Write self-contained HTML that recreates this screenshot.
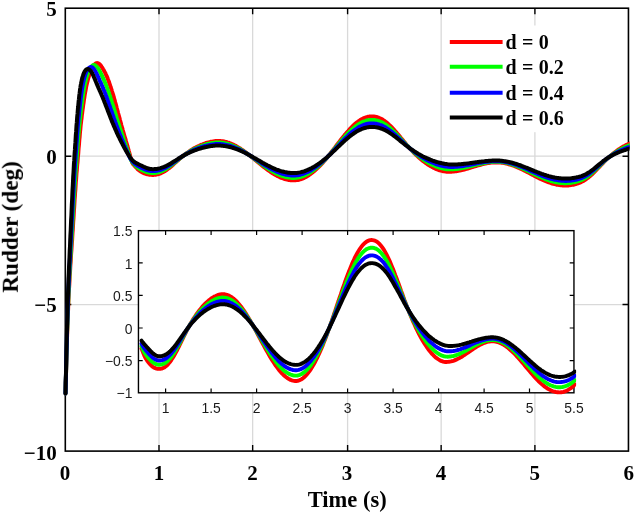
<!DOCTYPE html>
<html><head><meta charset="utf-8"><title>Rudder</title>
<style>html,body{margin:0;padding:0;background:#fff}svg{display:block}text{font-family:"Liberation Serif",serif;font-weight:bold;fill:#000}#tx{will-change:transform;opacity:.999}.s{font-family:"Liberation Sans",sans-serif;font-weight:normal;font-size:13.9px;fill:#1a1a1a}</style></head><body>
<svg width="636" height="515" viewBox="0 0 636 515">
<defs><filter id="bl" x="0" y="0" width="100%" height="100%" filterUnits="userSpaceOnUse" color-interpolation-filters="sRGB"><feGaussianBlur stdDeviation="0.45"/></filter></defs>
<rect width="636" height="515" fill="#fff"/>
<g filter="url(#bl)">
<rect width="636" height="515" fill="#fff"/>
<path d="M159.00 8.2 V451.1 M252.65 8.2 V451.1 M347.60 8.2 V451.1 M441.15 8.2 V451.1 M534.90 8.2 V451.1 M65.3 156.20 H628.5 M65.3 304.55 H628.5" stroke="#d9d9d9" stroke-width="1.3" fill="none"/>
<path d="M159.00 451.1 v-6.0 M159.00 8.2 v6.0 M252.65 451.1 v-6.0 M252.65 8.2 v6.0 M347.60 451.1 v-6.0 M347.60 8.2 v6.0 M441.15 451.1 v-6.0 M441.15 8.2 v6.0 M534.90 451.1 v-6.0 M534.90 8.2 v6.0 M65.3 156.20 h6.0 M628.5 156.20 h-6.0 M65.3 304.55 h6.0 M628.5 304.55 h-6.0" stroke="#000" stroke-width="1.4" fill="none"/>
<rect x="65.30" y="8.20" width="563.15" height="442.90" fill="none" stroke="#000" stroke-width="1.6"/>
<clipPath id="c1"><rect x="62.8" y="8.2" width="566.8" height="442.9"/></clipPath>
<g clip-path="url(#c1)" fill="none" stroke-linejoin="round" stroke-linecap="round" stroke-width="4.0">
<path d="M65.5 393.5 L65.7 384.0 L66.0 375.0 L66.2 366.3 L66.4 357.9 L66.7 350.0 L66.9 342.4 L67.1 335.1 L67.4 328.2 L67.6 321.7 L67.8 315.4 L68.1 309.5 L68.3 303.9 L68.5 298.7 L68.8 293.7 L69.0 289.0 L69.3 284.5 L69.5 280.3 L69.7 276.2 L70.0 272.3 L70.2 268.5 L70.4 264.8 L70.7 261.2 L70.9 257.7 L71.1 254.2 L71.4 250.7 L71.6 247.3 L71.8 243.8 L72.1 240.3 L72.3 236.7 L72.5 233.1 L72.8 229.5 L73.0 225.8 L73.2 222.1 L73.5 218.3 L73.7 214.6 L73.9 210.8 L74.2 207.1 L74.4 203.4 L74.6 199.8 L74.9 196.2 L75.1 192.7 L75.4 189.3 L75.6 185.9 L75.8 182.6 L76.1 179.4 L76.3 176.3 L76.5 173.3 L76.8 170.5 L77.0 167.6 L77.2 164.9 L77.5 162.2 L77.7 159.5 L77.9 156.7 L78.2 154.0 L78.4 151.2 L78.6 148.4 L78.9 145.6 L79.1 142.8 L79.3 140.0 L79.6 137.3 L79.8 134.6 L80.0 132.1 L80.3 129.6 L80.5 127.2 L80.7 125.0 L81.0 122.8 L81.2 120.7 L81.5 118.7 L81.7 116.7 L81.9 114.8 L82.2 112.9 L82.4 111.1 L82.6 109.4 L82.9 107.6 L83.1 105.9 L83.3 104.3 L83.6 102.6 L83.8 101.0 L84.0 99.5 L84.3 97.9 L84.7 95.0 L85.2 92.2 L85.7 89.6 L86.1 87.2 L86.6 84.9 L87.1 82.8 L87.6 80.9 L88.0 79.0 L88.5 77.4 L89.0 75.8 L89.4 74.4 L89.9 73.0 L90.4 71.8 L90.8 70.7 L91.3 69.6 L91.8 68.7 L92.2 67.8 L92.7 67.0 L93.2 66.2 L93.6 65.5 L94.1 65.0 L94.6 64.4 L95.1 64.0 L95.5 63.6 L96.0 63.4 L96.5 63.2 L96.9 63.1 L97.4 63.1 L97.9 63.2 L98.3 63.4 L98.8 63.7 L99.3 64.0 L99.7 64.5 L100.2 65.0 L100.7 65.5 L101.2 66.1 L101.6 66.8 L102.1 67.5 L102.6 68.3 L103.0 69.0 L103.5 69.8 L104.0 70.7 L104.4 71.5 L104.9 72.4 L105.4 73.3 L105.8 74.3 L106.3 75.3 L106.8 76.4 L107.3 77.5 L107.7 78.7 L108.2 80.0 L108.7 81.2 L109.1 82.5 L109.6 83.9 L110.1 85.3 L110.5 86.7 L111.0 88.1 L111.5 89.6 L111.9 91.1 L112.4 92.6 L112.9 94.2 L113.4 95.7 L113.8 97.4 L114.3 99.0 L114.8 100.6 L115.2 102.3 L115.7 104.0 L116.2 105.8 L116.6 107.5 L117.1 109.2 L117.6 111.0 L118.0 112.8 L118.5 114.5 L119.0 116.3 L119.5 118.0 L119.9 119.8 L120.4 121.5 L120.9 123.3 L121.3 125.0 L121.8 126.7 L122.3 128.3 L122.7 130.0 L123.2 131.6 L123.7 133.3 L124.1 134.9 L124.6 136.5 L125.1 138.1 L125.6 139.7 L126.0 141.3 L126.5 143.0 L127.0 144.6 L127.4 146.2 L127.9 147.8 L128.4 149.5 L128.8 151.1 L129.3 152.8 L129.8 154.5 L130.2 156.2 L130.7 157.9 L131.2 159.5 L131.7 161.0 L132.1 162.3 L132.6 163.3 L133.1 164.1 L133.5 164.7 L134.0 165.2 L134.5 165.7 L134.9 166.1 L135.4 166.7 L135.9 167.2 L136.3 167.7 L136.8 168.2 L137.3 168.7 L137.7 169.2 L138.2 169.6 L138.7 170.0 L139.2 170.3 L139.6 170.7 L140.1 171.0 L140.6 171.3 L141.0 171.6 L141.5 171.8 L142.0 172.1 L142.4 172.4 L142.9 172.6 L143.4 172.8 L143.8 173.1 L144.3 173.3 L144.8 173.5 L145.3 173.6 L145.7 173.8 L146.2 174.0 L146.7 174.1 L147.1 174.2 L147.6 174.3 L148.1 174.4 L148.5 174.5 L149.0 174.6 L149.5 174.7 L149.9 174.7 L150.4 174.8 L150.9 174.8 L151.4 174.8 L151.8 174.9 L152.3 174.9 L152.8 174.9 L153.2 174.9 L153.7 174.9 L154.2 174.8 L154.6 174.8 L155.1 174.7 L155.6 174.7 L156.0 174.6 L156.5 174.5 L157.0 174.4 L157.5 174.3 L157.9 174.2 L158.4 174.1 L158.9 173.9 L159.3 173.8 L160.5 173.4 L161.7 172.8 L162.8 172.3 L164.0 171.6 L165.2 170.9 L166.4 170.1 L167.5 169.2 L168.7 168.4 L169.9 167.4 L171.1 166.4 L172.2 165.4 L173.4 164.4 L174.6 163.3 L175.8 162.3 L176.9 161.2 L178.1 160.2 L179.3 159.1 L180.4 158.1 L181.6 157.1 L182.8 156.1 L184.0 155.2 L185.1 154.3 L186.3 153.4 L187.5 152.6 L188.7 151.8 L189.8 151.0 L191.0 150.2 L192.2 149.5 L193.3 148.8 L194.5 148.1 L195.7 147.5 L196.9 146.9 L198.0 146.3 L199.2 145.8 L200.4 145.2 L201.6 144.7 L202.7 144.3 L203.9 143.8 L205.1 143.4 L206.2 143.0 L207.4 142.7 L208.6 142.4 L209.8 142.1 L210.9 141.8 L212.1 141.6 L213.3 141.4 L214.5 141.2 L215.6 141.1 L216.8 141.0 L218.0 141.0 L219.1 141.0 L220.3 141.1 L221.5 141.2 L222.7 141.3 L223.8 141.5 L225.0 141.8 L226.2 142.0 L227.4 142.4 L228.5 142.7 L229.7 143.2 L230.9 143.6 L232.0 144.1 L233.2 144.6 L234.4 145.2 L235.6 145.8 L236.7 146.5 L237.9 147.2 L239.1 147.9 L240.3 148.6 L241.4 149.4 L242.6 150.2 L243.8 151.0 L244.9 151.8 L246.1 152.7 L247.3 153.6 L248.5 154.5 L249.6 155.4 L250.8 156.4 L252.0 157.3 L253.2 158.3 L254.3 159.2 L255.5 160.2 L256.7 161.1 L257.9 162.1 L259.0 163.1 L260.2 164.0 L261.4 165.0 L262.5 165.9 L263.7 166.8 L264.9 167.7 L266.1 168.6 L267.2 169.5 L268.4 170.3 L269.6 171.2 L270.8 172.0 L271.9 172.7 L273.1 173.5 L274.3 174.2 L275.4 174.9 L276.6 175.5 L277.8 176.2 L279.0 176.7 L280.1 177.3 L281.3 177.8 L282.5 178.2 L283.7 178.6 L284.8 179.0 L286.0 179.3 L287.2 179.6 L288.3 179.9 L289.5 180.0 L290.7 180.2 L291.9 180.3 L293.0 180.3 L294.2 180.3 L295.4 180.3 L296.6 180.1 L297.7 180.0 L298.9 179.7 L300.1 179.4 L301.2 179.0 L302.4 178.6 L303.6 178.1 L304.8 177.5 L305.9 176.9 L307.1 176.2 L308.3 175.5 L309.5 174.7 L310.6 173.9 L311.8 173.0 L313.0 172.1 L314.1 171.1 L315.3 170.1 L316.5 169.0 L317.7 167.9 L318.8 166.8 L320.0 165.6 L321.2 164.3 L322.4 163.1 L323.5 161.8 L324.7 160.4 L325.9 159.0 L327.1 157.6 L328.2 156.2 L329.4 154.7 L330.6 153.3 L331.7 151.8 L332.9 150.2 L334.1 148.7 L335.3 147.2 L336.4 145.6 L337.6 144.1 L338.8 142.6 L340.0 141.0 L341.1 139.5 L342.3 138.0 L343.5 136.6 L344.6 135.1 L345.8 133.7 L347.0 132.3 L348.2 131.0 L349.3 129.7 L350.5 128.4 L351.7 127.2 L352.9 126.0 L354.0 124.9 L355.2 123.9 L356.4 122.9 L357.5 122.0 L358.7 121.1 L359.9 120.3 L361.1 119.6 L362.2 119.0 L363.4 118.4 L364.6 117.9 L365.8 117.5 L366.9 117.1 L368.1 116.8 L369.3 116.6 L370.4 116.5 L371.6 116.5 L372.8 116.5 L374.0 116.6 L375.1 116.7 L376.3 117.0 L377.5 117.3 L378.7 117.7 L379.8 118.2 L381.0 118.8 L382.2 119.4 L383.3 120.2 L384.5 121.0 L385.7 121.8 L386.9 122.8 L388.0 123.8 L389.2 124.9 L390.4 126.0 L391.6 127.2 L392.7 128.4 L393.9 129.7 L395.1 131.0 L396.3 132.4 L397.4 133.7 L398.6 135.1 L399.8 136.5 L400.9 138.0 L402.1 139.4 L403.3 140.8 L404.5 142.2 L405.6 143.6 L406.8 145.0 L408.0 146.3 L409.2 147.7 L410.3 149.0 L411.5 150.2 L412.7 151.5 L413.8 152.7 L415.0 153.8 L416.2 155.0 L417.4 156.1 L418.5 157.2 L419.7 158.2 L420.9 159.2 L422.1 160.2 L423.2 161.1 L424.4 162.0 L425.6 162.9 L426.7 163.7 L427.9 164.5 L429.1 165.2 L430.3 166.0 L431.4 166.6 L432.6 167.3 L433.8 167.9 L435.0 168.4 L436.1 169.0 L437.3 169.4 L438.5 169.9 L439.6 170.3 L440.8 170.6 L442.0 170.9 L443.2 171.2 L444.3 171.4 L445.5 171.6 L446.7 171.7 L447.9 171.7 L449.0 171.7 L450.2 171.7 L451.4 171.7 L452.5 171.6 L453.7 171.5 L454.9 171.3 L456.1 171.2 L457.2 171.0 L458.4 170.8 L459.6 170.6 L460.8 170.3 L461.9 170.0 L463.1 169.8 L464.3 169.5 L465.5 169.1 L466.6 168.8 L467.8 168.5 L469.0 168.1 L470.1 167.8 L471.3 167.4 L472.5 167.1 L473.7 166.7 L474.8 166.3 L476.0 166.0 L477.2 165.6 L478.4 165.3 L479.5 165.0 L480.7 164.7 L481.9 164.4 L483.0 164.1 L484.2 163.8 L485.4 163.6 L486.6 163.3 L487.7 163.1 L488.9 162.9 L490.1 162.8 L491.3 162.6 L492.4 162.5 L493.6 162.5 L494.8 162.4 L495.9 162.4 L497.1 162.4 L498.3 162.4 L499.5 162.5 L500.6 162.6 L501.8 162.7 L503.0 162.9 L504.2 163.1 L505.3 163.3 L506.5 163.6 L507.7 163.9 L508.8 164.2 L510.0 164.5 L511.2 164.9 L512.4 165.3 L513.5 165.7 L514.7 166.1 L515.9 166.6 L517.1 167.1 L518.2 167.6 L519.4 168.1 L520.6 168.7 L521.7 169.2 L522.9 169.8 L524.1 170.4 L525.3 171.0 L526.4 171.6 L527.6 172.2 L528.8 172.8 L530.0 173.4 L531.1 174.0 L532.3 174.7 L533.5 175.3 L534.6 175.9 L535.8 176.5 L537.0 177.1 L538.2 177.7 L539.3 178.3 L540.5 178.8 L541.7 179.4 L542.9 179.9 L544.0 180.4 L545.2 180.9 L546.4 181.4 L547.6 181.9 L548.7 182.3 L549.9 182.7 L551.1 183.1 L552.2 183.5 L553.4 183.8 L554.6 184.1 L555.8 184.4 L556.9 184.7 L558.1 184.9 L559.3 185.1 L560.5 185.2 L561.6 185.3 L562.8 185.4 L564.0 185.5 L565.1 185.5 L566.3 185.5 L567.5 185.5 L568.7 185.4 L569.8 185.2 L571.0 185.1 L572.2 184.9 L573.4 184.7 L574.5 184.4 L575.7 184.1 L576.9 183.7 L578.0 183.3 L579.2 182.9 L580.4 182.4 L581.6 181.8 L582.7 181.2 L583.9 180.6 L585.1 179.8 L586.3 179.0 L587.4 178.2 L588.6 177.3 L589.8 176.3 L590.9 175.3 L592.1 174.2 L593.3 173.1 L594.5 171.9 L595.6 170.7 L596.8 169.5 L598.0 168.2 L599.2 167.0 L600.3 165.8 L601.5 164.5 L602.7 163.3 L603.8 162.1 L605.0 160.9 L606.2 159.7 L607.4 158.6 L608.5 157.6 L609.7 156.5 L610.9 155.5 L612.1 154.5 L613.2 153.6 L614.4 152.7 L615.6 151.8 L616.8 150.9 L617.9 150.0 L619.1 149.2 L620.3 148.5 L621.4 147.7 L622.6 147.0 L623.8 146.3 L625.0 145.7 L626.1 145.1 L627.3 144.5 L628.5 144.0 L629.7 143.5 L630.8 143.0 L632.0 142.6 L633.2 142.2" stroke="#ff0000"/>
<path d="M65.5 393.5 L65.7 383.7 L66.0 374.3 L66.2 365.2 L66.4 356.4 L66.7 347.9 L66.9 339.8 L67.1 332.0 L67.4 324.7 L67.6 317.6 L67.8 311.0 L68.1 304.8 L68.3 298.9 L68.5 293.4 L68.8 288.2 L69.0 283.3 L69.3 278.7 L69.5 274.2 L69.7 269.9 L70.0 265.8 L70.2 261.7 L70.4 257.7 L70.7 253.7 L70.9 249.8 L71.1 245.8 L71.4 241.9 L71.6 237.9 L71.8 233.9 L72.1 229.8 L72.3 225.8 L72.5 221.7 L72.8 217.6 L73.0 213.5 L73.2 209.4 L73.5 205.3 L73.7 201.3 L73.9 197.4 L74.2 193.5 L74.4 189.7 L74.6 186.0 L74.9 182.4 L75.1 178.9 L75.4 175.5 L75.6 172.3 L75.8 169.1 L76.1 166.0 L76.3 163.0 L76.5 160.0 L76.8 157.0 L77.0 154.0 L77.2 151.0 L77.5 147.9 L77.7 144.9 L77.9 141.9 L78.2 138.9 L78.4 136.1 L78.6 133.2 L78.9 130.5 L79.1 127.9 L79.3 125.4 L79.6 123.0 L79.8 120.7 L80.0 118.5 L80.3 116.3 L80.5 114.2 L80.7 112.2 L81.0 110.2 L81.2 108.2 L81.5 106.3 L81.7 104.4 L81.9 102.6 L82.2 100.8 L82.4 99.1 L82.6 97.4 L82.9 95.8 L83.1 94.2 L83.3 92.7 L83.6 91.2 L83.8 89.8 L84.0 88.4 L84.3 87.2 L84.7 84.7 L85.2 82.5 L85.7 80.5 L86.1 78.7 L86.6 77.0 L87.1 75.4 L87.6 74.0 L88.0 72.7 L88.5 71.6 L89.0 70.5 L89.4 69.6 L89.9 68.7 L90.4 67.9 L90.8 67.3 L91.3 66.7 L91.8 66.2 L92.2 65.8 L92.7 65.4 L93.2 65.2 L93.6 65.1 L94.1 65.1 L94.6 65.1 L95.1 65.3 L95.5 65.6 L96.0 65.9 L96.5 66.4 L96.9 66.9 L97.4 67.5 L97.9 68.1 L98.3 68.8 L98.8 69.6 L99.3 70.4 L99.7 71.3 L100.2 72.2 L100.7 73.1 L101.2 74.1 L101.6 75.0 L102.1 76.0 L102.6 77.0 L103.0 78.0 L103.5 79.0 L104.0 80.1 L104.4 81.2 L104.9 82.3 L105.4 83.5 L105.8 84.6 L106.3 85.8 L106.8 87.1 L107.3 88.4 L107.7 89.7 L108.2 91.0 L108.7 92.3 L109.1 93.7 L109.6 95.1 L110.1 96.5 L110.5 97.9 L111.0 99.4 L111.5 100.8 L111.9 102.3 L112.4 103.8 L112.9 105.3 L113.4 106.8 L113.8 108.4 L114.3 109.9 L114.8 111.4 L115.2 113.0 L115.7 114.5 L116.2 116.1 L116.6 117.6 L117.1 119.1 L117.6 120.7 L118.0 122.2 L118.5 123.7 L119.0 125.2 L119.5 126.6 L119.9 128.1 L120.4 129.5 L120.9 130.9 L121.3 132.3 L121.8 133.7 L122.3 135.1 L122.7 136.5 L123.2 137.9 L123.7 139.3 L124.1 140.6 L124.6 142.0 L125.1 143.3 L125.6 144.7 L126.0 146.1 L126.5 147.4 L127.0 148.8 L127.4 150.1 L127.9 151.5 L128.4 152.9 L128.8 154.3 L129.3 155.6 L129.8 157.0 L130.2 158.2 L130.7 159.4 L131.2 160.4 L131.7 161.2 L132.1 161.9 L132.6 162.5 L133.1 163.1 L133.5 163.6 L134.0 164.1 L134.5 164.6 L134.9 165.1 L135.4 165.6 L135.9 166.0 L136.3 166.5 L136.8 166.9 L137.3 167.3 L137.7 167.6 L138.2 167.9 L138.7 168.2 L139.2 168.5 L139.6 168.8 L140.1 169.0 L140.6 169.3 L141.0 169.6 L141.5 169.8 L142.0 170.1 L142.4 170.3 L142.9 170.5 L143.4 170.8 L143.8 171.0 L144.3 171.2 L144.8 171.4 L145.3 171.5 L145.7 171.7 L146.2 171.9 L146.7 172.0 L147.1 172.2 L147.6 172.3 L148.1 172.4 L148.5 172.5 L149.0 172.6 L149.5 172.7 L149.9 172.8 L150.4 172.8 L150.9 172.9 L151.4 172.9 L151.8 173.0 L152.3 173.0 L152.8 173.0 L153.2 173.0 L153.7 173.0 L154.2 172.9 L154.6 172.9 L155.1 172.9 L155.6 172.8 L156.0 172.7 L156.5 172.7 L157.0 172.6 L157.5 172.5 L157.9 172.4 L158.4 172.3 L158.9 172.1 L159.3 172.0 L160.5 171.6 L161.7 171.1 L162.8 170.6 L164.0 170.0 L165.2 169.4 L166.4 168.7 L167.5 167.9 L168.7 167.1 L169.9 166.2 L171.1 165.4 L172.2 164.5 L173.4 163.5 L174.6 162.6 L175.8 161.6 L176.9 160.7 L178.1 159.7 L179.3 158.8 L180.4 157.9 L181.6 157.0 L182.8 156.1 L184.0 155.3 L185.1 154.4 L186.3 153.7 L187.5 152.9 L188.7 152.2 L189.8 151.5 L191.0 150.8 L192.2 150.1 L193.3 149.5 L194.5 148.9 L195.7 148.3 L196.9 147.8 L198.0 147.3 L199.2 146.8 L200.4 146.3 L201.6 145.9 L202.7 145.4 L203.9 145.1 L205.1 144.7 L206.2 144.3 L207.4 144.0 L208.6 143.7 L209.8 143.5 L210.9 143.2 L212.1 143.0 L213.3 142.9 L214.5 142.7 L215.6 142.6 L216.8 142.6 L218.0 142.5 L219.1 142.5 L220.3 142.6 L221.5 142.7 L222.7 142.8 L223.8 143.0 L225.0 143.2 L226.2 143.4 L227.4 143.7 L228.5 144.1 L229.7 144.4 L230.9 144.8 L232.0 145.3 L233.2 145.8 L234.4 146.3 L235.6 146.8 L236.7 147.4 L237.9 148.0 L239.1 148.6 L240.3 149.3 L241.4 150.0 L242.6 150.7 L243.8 151.4 L244.9 152.2 L246.1 153.0 L247.3 153.7 L248.5 154.6 L249.6 155.4 L250.8 156.2 L252.0 157.1 L253.2 157.9 L254.3 158.8 L255.5 159.6 L256.7 160.5 L257.9 161.4 L259.0 162.2 L260.2 163.1 L261.4 164.0 L262.5 164.8 L263.7 165.6 L264.9 166.5 L266.1 167.3 L267.2 168.1 L268.4 168.8 L269.6 169.6 L270.8 170.3 L271.9 171.0 L273.1 171.7 L274.3 172.3 L275.4 173.0 L276.6 173.6 L277.8 174.1 L279.0 174.6 L280.1 175.1 L281.3 175.6 L282.5 176.0 L283.7 176.4 L284.8 176.7 L286.0 177.0 L287.2 177.3 L288.3 177.5 L289.5 177.6 L290.7 177.8 L291.9 177.9 L293.0 177.9 L294.2 177.9 L295.4 177.8 L296.6 177.7 L297.7 177.6 L298.9 177.3 L300.1 177.0 L301.2 176.7 L302.4 176.3 L303.6 175.9 L304.8 175.4 L305.9 174.8 L307.1 174.2 L308.3 173.6 L309.5 172.9 L310.6 172.1 L311.8 171.3 L313.0 170.5 L314.1 169.6 L315.3 168.7 L316.5 167.8 L317.7 166.8 L318.8 165.7 L320.0 164.7 L321.2 163.5 L322.4 162.4 L323.5 161.2 L324.7 160.0 L325.9 158.8 L327.1 157.5 L328.2 156.2 L329.4 154.9 L330.6 153.5 L331.7 152.2 L332.9 150.8 L334.1 149.4 L335.3 148.0 L336.4 146.6 L337.6 145.2 L338.8 143.8 L340.0 142.4 L341.1 141.1 L342.3 139.7 L343.5 138.3 L344.6 137.0 L345.8 135.7 L347.0 134.5 L348.2 133.2 L349.3 132.0 L350.5 130.9 L351.7 129.8 L352.9 128.7 L354.0 127.7 L355.2 126.7 L356.4 125.8 L357.5 125.0 L358.7 124.2 L359.9 123.5 L361.1 122.8 L362.2 122.2 L363.4 121.7 L364.6 121.3 L365.8 120.9 L366.9 120.5 L368.1 120.3 L369.3 120.1 L370.4 120.0 L371.6 119.9 L372.8 120.0 L374.0 120.0 L375.1 120.2 L376.3 120.4 L377.5 120.7 L378.7 121.1 L379.8 121.5 L381.0 122.0 L382.2 122.6 L383.3 123.2 L384.5 123.9 L385.7 124.7 L386.9 125.6 L388.0 126.5 L389.2 127.4 L390.4 128.4 L391.6 129.5 L392.7 130.6 L393.9 131.7 L395.1 132.9 L396.3 134.1 L397.4 135.4 L398.6 136.6 L399.8 137.9 L400.9 139.1 L402.1 140.4 L403.3 141.6 L404.5 142.9 L405.6 144.1 L406.8 145.3 L408.0 146.5 L409.2 147.7 L410.3 148.8 L411.5 149.9 L412.7 151.0 L413.8 152.1 L415.0 153.1 L416.2 154.1 L417.4 155.1 L418.5 156.0 L419.7 156.9 L420.9 157.8 L422.1 158.7 L423.2 159.5 L424.4 160.3 L425.6 161.0 L426.7 161.8 L427.9 162.5 L429.1 163.1 L430.3 163.8 L431.4 164.4 L432.6 164.9 L433.8 165.5 L435.0 166.0 L436.1 166.5 L437.3 166.9 L438.5 167.3 L439.6 167.7 L440.8 168.0 L442.0 168.3 L443.2 168.6 L444.3 168.8 L445.5 169.0 L446.7 169.2 L447.9 169.3 L449.0 169.3 L450.2 169.3 L451.4 169.3 L452.5 169.3 L453.7 169.2 L454.9 169.1 L456.1 169.0 L457.2 168.9 L458.4 168.7 L459.6 168.5 L460.8 168.4 L461.9 168.1 L463.1 167.9 L464.3 167.7 L465.5 167.4 L466.6 167.2 L467.8 166.9 L469.0 166.6 L470.1 166.3 L471.3 166.0 L472.5 165.7 L473.7 165.4 L474.8 165.1 L476.0 164.8 L477.2 164.5 L478.4 164.3 L479.5 164.0 L480.7 163.7 L481.9 163.5 L483.0 163.2 L484.2 163.0 L485.4 162.8 L486.6 162.6 L487.7 162.4 L488.9 162.2 L490.1 162.1 L491.3 162.0 L492.4 161.9 L493.6 161.8 L494.8 161.8 L495.9 161.8 L497.1 161.8 L498.3 161.8 L499.5 161.9 L500.6 162.0 L501.8 162.1 L503.0 162.2 L504.2 162.4 L505.3 162.6 L506.5 162.9 L507.7 163.1 L508.8 163.4 L510.0 163.7 L511.2 164.1 L512.4 164.5 L513.5 164.8 L514.7 165.3 L515.9 165.7 L517.1 166.1 L518.2 166.6 L519.4 167.1 L520.6 167.6 L521.7 168.1 L522.9 168.6 L524.1 169.2 L525.3 169.7 L526.4 170.3 L527.6 170.9 L528.8 171.4 L530.0 172.0 L531.1 172.6 L532.3 173.1 L533.5 173.7 L534.6 174.3 L535.8 174.8 L537.0 175.4 L538.2 175.9 L539.3 176.5 L540.5 177.0 L541.7 177.5 L542.9 178.0 L544.0 178.5 L545.2 179.0 L546.4 179.4 L547.6 179.8 L548.7 180.2 L549.9 180.6 L551.1 181.0 L552.2 181.3 L553.4 181.6 L554.6 181.9 L555.8 182.2 L556.9 182.4 L558.1 182.6 L559.3 182.8 L560.5 182.9 L561.6 183.0 L562.8 183.1 L564.0 183.2 L565.1 183.2 L566.3 183.2 L567.5 183.1 L568.7 183.1 L569.8 183.0 L571.0 182.8 L572.2 182.6 L573.4 182.4 L574.5 182.2 L575.7 181.9 L576.9 181.6 L578.0 181.2 L579.2 180.9 L580.4 180.4 L581.6 179.9 L582.7 179.4 L583.9 178.8 L585.1 178.1 L586.3 177.4 L587.4 176.6 L588.6 175.7 L589.8 174.8 L590.9 173.9 L592.1 172.8 L593.3 171.8 L594.5 170.7 L595.6 169.6 L596.8 168.5 L598.0 167.3 L599.2 166.2 L600.3 165.0 L601.5 163.8 L602.7 162.7 L603.8 161.6 L605.0 160.5 L606.2 159.5 L607.4 158.5 L608.5 157.5 L609.7 156.6 L610.9 155.7 L612.1 154.8 L613.2 154.0 L614.4 153.2 L615.6 152.4 L616.8 151.6 L617.9 150.9 L619.1 150.2 L620.3 149.5 L621.4 148.9 L622.6 148.3 L623.8 147.7 L625.0 147.1 L626.1 146.6 L627.3 146.1 L628.5 145.6 L629.7 145.2 L630.8 144.7 L632.0 144.3 L633.2 144.0" stroke="#00ff00"/>
<path d="M65.5 393.5 L65.7 383.3 L66.0 373.4 L66.2 363.7 L66.4 354.2 L66.7 345.1 L66.9 336.3 L67.1 327.9 L67.4 319.9 L67.6 312.3 L67.8 305.3 L68.1 298.7 L68.3 292.6 L68.5 286.9 L68.8 281.5 L69.0 276.3 L69.3 271.4 L69.5 266.6 L69.7 262.0 L70.0 257.3 L70.2 252.8 L70.4 248.2 L70.7 243.7 L70.9 239.2 L71.1 234.7 L71.4 230.1 L71.6 225.6 L71.8 221.0 L72.1 216.5 L72.3 212.0 L72.5 207.5 L72.8 203.0 L73.0 198.6 L73.2 194.3 L73.5 190.1 L73.7 185.9 L73.9 181.9 L74.2 178.0 L74.4 174.3 L74.6 170.7 L74.9 167.2 L75.1 163.7 L75.4 160.4 L75.6 157.1 L75.8 153.8 L76.1 150.5 L76.3 147.2 L76.5 143.9 L76.8 140.6 L77.0 137.4 L77.2 134.3 L77.5 131.3 L77.7 128.4 L77.9 125.6 L78.2 123.0 L78.4 120.4 L78.6 117.9 L78.9 115.5 L79.1 113.1 L79.3 110.8 L79.6 108.6 L79.8 106.4 L80.0 104.3 L80.3 102.3 L80.5 100.3 L80.7 98.4 L81.0 96.5 L81.2 94.7 L81.5 93.0 L81.7 91.4 L81.9 89.9 L82.2 88.4 L82.4 87.0 L82.6 85.7 L82.9 84.4 L83.1 83.2 L83.3 82.1 L83.6 81.0 L83.8 80.0 L84.0 79.1 L84.3 78.2 L84.7 76.5 L85.2 75.0 L85.7 73.6 L86.1 72.4 L86.6 71.4 L87.1 70.5 L87.6 69.7 L88.0 69.0 L88.5 68.4 L89.0 67.9 L89.4 67.5 L89.9 67.3 L90.4 67.1 L90.8 67.0 L91.3 67.1 L91.8 67.2 L92.2 67.5 L92.7 67.8 L93.2 68.2 L93.6 68.7 L94.1 69.3 L94.6 70.0 L95.1 70.8 L95.5 71.6 L96.0 72.5 L96.5 73.4 L96.9 74.4 L97.4 75.4 L97.9 76.4 L98.3 77.5 L98.8 78.5 L99.3 79.6 L99.7 80.6 L100.2 81.7 L100.7 82.7 L101.2 83.8 L101.6 84.9 L102.1 85.9 L102.6 87.0 L103.0 88.1 L103.5 89.3 L104.0 90.4 L104.4 91.6 L104.9 92.8 L105.4 94.0 L105.8 95.3 L106.3 96.5 L106.8 97.8 L107.3 99.1 L107.7 100.4 L108.2 101.7 L108.7 103.1 L109.1 104.4 L109.6 105.7 L110.1 107.1 L110.5 108.4 L111.0 109.8 L111.5 111.2 L111.9 112.5 L112.4 113.9 L112.9 115.2 L113.4 116.6 L113.8 117.9 L114.3 119.3 L114.8 120.6 L115.2 121.9 L115.7 123.2 L116.2 124.5 L116.6 125.8 L117.1 127.1 L117.6 128.3 L118.0 129.6 L118.5 130.8 L119.0 132.0 L119.5 133.2 L119.9 134.4 L120.4 135.6 L120.9 136.8 L121.3 137.9 L121.8 139.1 L122.3 140.2 L122.7 141.4 L123.2 142.5 L123.7 143.6 L124.1 144.7 L124.6 145.9 L125.1 147.0 L125.6 148.1 L126.0 149.2 L126.5 150.3 L127.0 151.4 L127.4 152.5 L127.9 153.5 L128.4 154.6 L128.8 155.6 L129.3 156.6 L129.8 157.5 L130.2 158.3 L130.7 159.1 L131.2 159.8 L131.7 160.4 L132.1 161.0 L132.6 161.5 L133.1 162.0 L133.5 162.5 L134.0 163.0 L134.5 163.4 L134.9 163.9 L135.4 164.3 L135.9 164.6 L136.3 164.9 L136.8 165.2 L137.3 165.5 L137.7 165.8 L138.2 166.0 L138.7 166.3 L139.2 166.6 L139.6 166.8 L140.1 167.1 L140.6 167.3 L141.0 167.5 L141.5 167.8 L142.0 168.0 L142.4 168.2 L142.9 168.5 L143.4 168.7 L143.8 168.9 L144.3 169.1 L144.8 169.3 L145.3 169.5 L145.7 169.7 L146.2 169.8 L146.7 170.0 L147.1 170.1 L147.6 170.3 L148.1 170.4 L148.5 170.5 L149.0 170.6 L149.5 170.7 L149.9 170.8 L150.4 170.9 L150.9 171.0 L151.4 171.0 L151.8 171.0 L152.3 171.1 L152.8 171.1 L153.2 171.1 L153.7 171.1 L154.2 171.0 L154.6 171.0 L155.1 171.0 L155.6 170.9 L156.0 170.9 L156.5 170.8 L157.0 170.7 L157.5 170.6 L157.9 170.5 L158.4 170.4 L158.9 170.3 L159.3 170.2 L160.5 169.9 L161.7 169.4 L162.8 169.0 L164.0 168.4 L165.2 167.9 L166.4 167.2 L167.5 166.6 L168.7 165.8 L169.9 165.1 L171.1 164.3 L172.2 163.5 L173.4 162.7 L174.6 161.8 L175.8 161.0 L176.9 160.1 L178.1 159.3 L179.3 158.4 L180.4 157.6 L181.6 156.8 L182.8 156.1 L184.0 155.3 L185.1 154.6 L186.3 153.9 L187.5 153.2 L188.7 152.6 L189.8 151.9 L191.0 151.3 L192.2 150.8 L193.3 150.2 L194.5 149.7 L195.7 149.2 L196.9 148.7 L198.0 148.2 L199.2 147.8 L200.4 147.4 L201.6 147.0 L202.7 146.6 L203.9 146.3 L205.1 146.0 L206.2 145.7 L207.4 145.4 L208.6 145.1 L209.8 144.9 L210.9 144.7 L212.1 144.5 L213.3 144.4 L214.5 144.2 L215.6 144.1 L216.8 144.1 L218.0 144.0 L219.1 144.1 L220.3 144.1 L221.5 144.2 L222.7 144.3 L223.8 144.4 L225.0 144.6 L226.2 144.9 L227.4 145.1 L228.5 145.4 L229.7 145.7 L230.9 146.1 L232.0 146.5 L233.2 146.9 L234.4 147.3 L235.6 147.8 L236.7 148.3 L237.9 148.8 L239.1 149.4 L240.3 150.0 L241.4 150.6 L242.6 151.2 L243.8 151.8 L244.9 152.5 L246.1 153.2 L247.3 153.9 L248.5 154.6 L249.6 155.3 L250.8 156.1 L252.0 156.8 L253.2 157.6 L254.3 158.4 L255.5 159.1 L256.7 159.9 L257.9 160.7 L259.0 161.4 L260.2 162.2 L261.4 163.0 L262.5 163.7 L263.7 164.5 L264.9 165.2 L266.1 165.9 L267.2 166.6 L268.4 167.3 L269.6 168.0 L270.8 168.7 L271.9 169.3 L273.1 169.9 L274.3 170.5 L275.4 171.0 L276.6 171.6 L277.8 172.1 L279.0 172.5 L280.1 173.0 L281.3 173.4 L282.5 173.8 L283.7 174.1 L284.8 174.4 L286.0 174.7 L287.2 174.9 L288.3 175.1 L289.5 175.2 L290.7 175.4 L291.9 175.4 L293.0 175.5 L294.2 175.5 L295.4 175.4 L296.6 175.3 L297.7 175.2 L298.9 175.0 L300.1 174.7 L301.2 174.4 L302.4 174.1 L303.6 173.7 L304.8 173.2 L305.9 172.7 L307.1 172.2 L308.3 171.6 L309.5 171.0 L310.6 170.4 L311.8 169.7 L313.0 168.9 L314.1 168.1 L315.3 167.3 L316.5 166.5 L317.7 165.6 L318.8 164.7 L320.0 163.7 L321.2 162.7 L322.4 161.7 L323.5 160.7 L324.7 159.6 L325.9 158.5 L327.1 157.4 L328.2 156.2 L329.4 155.0 L330.6 153.8 L331.7 152.6 L332.9 151.4 L334.1 150.1 L335.3 148.9 L336.4 147.6 L337.6 146.3 L338.8 145.1 L340.0 143.8 L341.1 142.6 L342.3 141.3 L343.5 140.1 L344.6 138.9 L345.8 137.8 L347.0 136.6 L348.2 135.5 L349.3 134.4 L350.5 133.4 L351.7 132.4 L352.9 131.4 L354.0 130.5 L355.2 129.6 L356.4 128.8 L357.5 128.0 L358.7 127.3 L359.9 126.6 L361.1 126.1 L362.2 125.5 L363.4 125.0 L364.6 124.6 L365.8 124.3 L366.9 124.0 L368.1 123.7 L369.3 123.6 L370.4 123.5 L371.6 123.4 L372.8 123.4 L374.0 123.5 L375.1 123.7 L376.3 123.8 L377.5 124.1 L378.7 124.4 L379.8 124.8 L381.0 125.2 L382.2 125.7 L383.3 126.3 L384.5 126.9 L385.7 127.6 L386.9 128.4 L388.0 129.1 L389.2 130.0 L390.4 130.9 L391.6 131.8 L392.7 132.8 L393.9 133.8 L395.1 134.8 L396.3 135.9 L397.4 136.9 L398.6 138.0 L399.8 139.1 L400.9 140.2 L402.1 141.3 L403.3 142.4 L404.5 143.5 L405.6 144.6 L406.8 145.7 L408.0 146.7 L409.2 147.7 L410.3 148.7 L411.5 149.7 L412.7 150.6 L413.8 151.5 L415.0 152.4 L416.2 153.3 L417.4 154.1 L418.5 154.9 L419.7 155.7 L420.9 156.5 L422.1 157.2 L423.2 157.9 L424.4 158.6 L425.6 159.3 L426.7 159.9 L427.9 160.5 L429.1 161.1 L430.3 161.7 L431.4 162.2 L432.6 162.7 L433.8 163.2 L435.0 163.6 L436.1 164.1 L437.3 164.5 L438.5 164.8 L439.6 165.2 L440.8 165.5 L442.0 165.8 L443.2 166.1 L444.3 166.3 L445.5 166.5 L446.7 166.6 L447.9 166.8 L449.0 166.8 L450.2 166.9 L451.4 166.9 L452.5 166.9 L453.7 166.9 L454.9 166.8 L456.1 166.8 L457.2 166.7 L458.4 166.6 L459.6 166.4 L460.8 166.3 L461.9 166.2 L463.1 166.0 L464.3 165.8 L465.5 165.6 L466.6 165.4 L467.8 165.2 L469.0 165.0 L470.1 164.8 L471.3 164.5 L472.5 164.3 L473.7 164.1 L474.8 163.8 L476.0 163.6 L477.2 163.4 L478.4 163.1 L479.5 162.9 L480.7 162.7 L481.9 162.5 L483.0 162.3 L484.2 162.1 L485.4 162.0 L486.6 161.8 L487.7 161.7 L488.9 161.5 L490.1 161.4 L491.3 161.3 L492.4 161.3 L493.6 161.2 L494.8 161.2 L495.9 161.2 L497.1 161.2 L498.3 161.2 L499.5 161.2 L500.6 161.3 L501.8 161.4 L503.0 161.6 L504.2 161.8 L505.3 161.9 L506.5 162.2 L507.7 162.4 L508.8 162.7 L510.0 163.0 L511.2 163.3 L512.4 163.6 L513.5 164.0 L514.7 164.4 L515.9 164.8 L517.1 165.2 L518.2 165.6 L519.4 166.1 L520.6 166.5 L521.7 167.0 L522.9 167.5 L524.1 168.0 L525.3 168.5 L526.4 169.0 L527.6 169.5 L528.8 170.0 L530.0 170.6 L531.1 171.1 L532.3 171.6 L533.5 172.1 L534.6 172.7 L535.8 173.2 L537.0 173.7 L538.2 174.2 L539.3 174.7 L540.5 175.2 L541.7 175.6 L542.9 176.1 L544.0 176.5 L545.2 177.0 L546.4 177.4 L547.6 177.8 L548.7 178.1 L549.9 178.5 L551.1 178.8 L552.2 179.1 L553.4 179.4 L554.6 179.7 L555.8 179.9 L556.9 180.1 L558.1 180.3 L559.3 180.5 L560.5 180.6 L561.6 180.7 L562.8 180.8 L564.0 180.8 L565.1 180.9 L566.3 180.9 L567.5 180.8 L568.7 180.8 L569.8 180.7 L571.0 180.5 L572.2 180.4 L573.4 180.2 L574.5 180.0 L575.7 179.8 L576.9 179.5 L578.0 179.2 L579.2 178.8 L580.4 178.4 L581.6 178.0 L582.7 177.5 L583.9 177.0 L585.1 176.3 L586.3 175.7 L587.4 174.9 L588.6 174.2 L589.8 173.3 L590.9 172.4 L592.1 171.5 L593.3 170.5 L594.5 169.5 L595.6 168.5 L596.8 167.4 L598.0 166.4 L599.2 165.3 L600.3 164.2 L601.5 163.2 L602.7 162.1 L603.8 161.1 L605.0 160.1 L606.2 159.2 L607.4 158.3 L608.5 157.5 L609.7 156.7 L610.9 155.9 L612.1 155.1 L613.2 154.4 L614.4 153.7 L615.6 153.0 L616.8 152.4 L617.9 151.8 L619.1 151.2 L620.3 150.6 L621.4 150.1 L622.6 149.5 L623.8 149.0 L625.0 148.5 L626.1 148.1 L627.3 147.6 L628.5 147.2 L629.7 146.8 L630.8 146.4 L632.0 146.1 L633.2 145.8" stroke="#0000ff"/>
<path d="M65.5 393.5 L65.7 382.8 L66.0 372.2 L66.2 361.6 L66.4 351.2 L66.7 341.1 L66.9 331.4 L67.1 322.2 L67.4 313.4 L67.6 305.3 L67.8 297.9 L68.1 291.1 L68.3 284.7 L68.5 278.7 L68.8 272.9 L69.0 267.4 L69.3 261.9 L69.5 256.5 L69.7 251.2 L70.0 246.0 L70.2 240.7 L70.4 235.5 L70.7 230.4 L70.9 225.2 L71.1 220.1 L71.4 215.0 L71.6 209.9 L71.8 204.9 L72.1 199.9 L72.3 195.0 L72.5 190.2 L72.8 185.5 L73.0 181.0 L73.2 176.6 L73.5 172.4 L73.7 168.4 L73.9 164.5 L74.2 160.7 L74.4 157.0 L74.6 153.3 L74.9 149.7 L75.1 146.1 L75.4 142.4 L75.6 138.8 L75.8 135.3 L76.1 131.9 L76.3 128.6 L76.5 125.5 L76.8 122.4 L77.0 119.5 L77.2 116.7 L77.5 114.0 L77.7 111.4 L77.9 108.8 L78.2 106.3 L78.4 103.9 L78.6 101.6 L78.9 99.3 L79.1 97.2 L79.3 95.2 L79.6 93.2 L79.8 91.4 L80.0 89.7 L80.3 88.1 L80.5 86.6 L80.7 85.2 L81.0 83.9 L81.2 82.6 L81.5 81.5 L81.7 80.4 L81.9 79.4 L82.2 78.4 L82.4 77.5 L82.6 76.7 L82.9 75.9 L83.1 75.2 L83.3 74.5 L83.6 73.9 L83.8 73.3 L84.0 72.8 L84.3 72.3 L84.7 71.4 L85.2 70.7 L85.7 70.1 L86.1 69.6 L86.6 69.3 L87.1 69.1 L87.6 69.0 L88.0 69.0 L88.5 69.1 L89.0 69.4 L89.4 69.7 L89.9 70.1 L90.4 70.6 L90.8 71.2 L91.3 71.9 L91.8 72.6 L92.2 73.5 L92.7 74.4 L93.2 75.3 L93.6 76.4 L94.1 77.5 L94.6 78.6 L95.1 79.7 L95.5 80.8 L96.0 82.0 L96.5 83.1 L96.9 84.2 L97.4 85.3 L97.9 86.4 L98.3 87.5 L98.8 88.6 L99.3 89.6 L99.7 90.7 L100.2 91.7 L100.7 92.8 L101.2 93.9 L101.6 95.0 L102.1 96.1 L102.6 97.2 L103.0 98.4 L103.5 99.5 L104.0 100.7 L104.4 101.9 L104.9 103.1 L105.4 104.4 L105.8 105.6 L106.3 106.8 L106.8 108.0 L107.3 109.2 L107.7 110.5 L108.2 111.7 L108.7 112.9 L109.1 114.1 L109.6 115.3 L110.1 116.5 L110.5 117.7 L111.0 118.9 L111.5 120.1 L111.9 121.3 L112.4 122.4 L112.9 123.6 L113.4 124.7 L113.8 125.8 L114.3 126.9 L114.8 128.0 L115.2 129.1 L115.7 130.1 L116.2 131.2 L116.6 132.2 L117.1 133.3 L117.6 134.3 L118.0 135.3 L118.5 136.3 L119.0 137.2 L119.5 138.2 L119.9 139.2 L120.4 140.1 L120.9 141.1 L121.3 142.0 L121.8 142.9 L122.3 143.8 L122.7 144.7 L123.2 145.6 L123.7 146.5 L124.1 147.4 L124.6 148.3 L125.1 149.1 L125.6 150.0 L126.0 150.8 L126.5 151.6 L127.0 152.4 L127.4 153.2 L127.9 154.0 L128.4 154.8 L128.8 155.5 L129.3 156.2 L129.8 156.9 L130.2 157.6 L130.7 158.3 L131.2 158.9 L131.7 159.4 L132.1 160.0 L132.6 160.4 L133.1 160.9 L133.5 161.3 L134.0 161.7 L134.5 162.0 L134.9 162.3 L135.4 162.6 L135.9 162.9 L136.3 163.1 L136.8 163.4 L137.3 163.6 L137.7 163.8 L138.2 164.1 L138.7 164.3 L139.2 164.5 L139.6 164.8 L140.1 165.0 L140.6 165.3 L141.0 165.5 L141.5 165.7 L142.0 165.9 L142.4 166.2 L142.9 166.4 L143.4 166.6 L143.8 166.8 L144.3 167.0 L144.8 167.2 L145.3 167.4 L145.7 167.6 L146.2 167.8 L146.7 168.0 L147.1 168.1 L147.6 168.3 L148.1 168.4 L148.5 168.6 L149.0 168.7 L149.5 168.8 L149.9 168.9 L150.4 169.0 L150.9 169.0 L151.4 169.1 L151.8 169.1 L152.3 169.2 L152.8 169.2 L153.2 169.2 L153.7 169.2 L154.2 169.1 L154.6 169.1 L155.1 169.1 L155.6 169.0 L156.0 169.0 L156.5 168.9 L157.0 168.9 L157.5 168.8 L157.9 168.7 L158.4 168.6 L158.9 168.5 L159.3 168.4 L160.5 168.1 L161.7 167.7 L162.8 167.3 L164.0 166.9 L165.2 166.4 L166.4 165.8 L167.5 165.2 L168.7 164.6 L169.9 163.9 L171.1 163.2 L172.2 162.5 L173.4 161.8 L174.6 161.1 L175.8 160.3 L176.9 159.6 L178.1 158.8 L179.3 158.1 L180.4 157.4 L181.6 156.7 L182.8 156.0 L184.0 155.4 L185.1 154.7 L186.3 154.1 L187.5 153.5 L188.7 153.0 L189.8 152.4 L191.0 151.9 L192.2 151.4 L193.3 150.9 L194.5 150.5 L195.7 150.0 L196.9 149.6 L198.0 149.2 L199.2 148.8 L200.4 148.5 L201.6 148.1 L202.7 147.8 L203.9 147.5 L205.1 147.2 L206.2 147.0 L207.4 146.7 L208.6 146.5 L209.8 146.3 L210.9 146.1 L212.1 146.0 L213.3 145.8 L214.5 145.7 L215.6 145.6 L216.8 145.6 L218.0 145.6 L219.1 145.6 L220.3 145.6 L221.5 145.7 L222.7 145.8 L223.8 145.9 L225.0 146.1 L226.2 146.3 L227.4 146.5 L228.5 146.7 L229.7 147.0 L230.9 147.3 L232.0 147.6 L233.2 148.0 L234.4 148.4 L235.6 148.8 L236.7 149.2 L237.9 149.7 L239.1 150.2 L240.3 150.7 L241.4 151.2 L242.6 151.7 L243.8 152.3 L244.9 152.8 L246.1 153.4 L247.3 154.0 L248.5 154.7 L249.6 155.3 L250.8 155.9 L252.0 156.6 L253.2 157.3 L254.3 157.9 L255.5 158.6 L256.7 159.3 L257.9 160.0 L259.0 160.6 L260.2 161.3 L261.4 162.0 L262.5 162.7 L263.7 163.3 L264.9 164.0 L266.1 164.6 L267.2 165.2 L268.4 165.8 L269.6 166.4 L270.8 167.0 L271.9 167.6 L273.1 168.1 L274.3 168.6 L275.4 169.1 L276.6 169.6 L277.8 170.0 L279.0 170.4 L280.1 170.8 L281.3 171.2 L282.5 171.5 L283.7 171.8 L284.8 172.1 L286.0 172.3 L287.2 172.5 L288.3 172.7 L289.5 172.8 L290.7 172.9 L291.9 173.0 L293.0 173.0 L294.2 173.0 L295.4 173.0 L296.6 172.9 L297.7 172.8 L298.9 172.6 L300.1 172.4 L301.2 172.1 L302.4 171.8 L303.6 171.5 L304.8 171.1 L305.9 170.6 L307.1 170.2 L308.3 169.7 L309.5 169.2 L310.6 168.6 L311.8 168.0 L313.0 167.3 L314.1 166.7 L315.3 166.0 L316.5 165.2 L317.7 164.4 L318.8 163.6 L320.0 162.8 L321.2 162.0 L322.4 161.1 L323.5 160.1 L324.7 159.2 L325.9 158.2 L327.1 157.2 L328.2 156.2 L329.4 155.2 L330.6 154.1 L331.7 153.0 L332.9 151.9 L334.1 150.8 L335.3 149.7 L336.4 148.6 L337.6 147.4 L338.8 146.3 L340.0 145.2 L341.1 144.1 L342.3 143.0 L343.5 141.9 L344.6 140.8 L345.8 139.8 L347.0 138.7 L348.2 137.7 L349.3 136.8 L350.5 135.8 L351.7 134.9 L352.9 134.1 L354.0 133.2 L355.2 132.5 L356.4 131.7 L357.5 131.0 L358.7 130.4 L359.9 129.8 L361.1 129.3 L362.2 128.8 L363.4 128.4 L364.6 128.0 L365.8 127.7 L366.9 127.4 L368.1 127.2 L369.3 127.0 L370.4 127.0 L371.6 126.9 L372.8 126.9 L374.0 127.0 L375.1 127.1 L376.3 127.3 L377.5 127.5 L378.7 127.8 L379.8 128.1 L381.0 128.5 L382.2 128.9 L383.3 129.4 L384.5 129.9 L385.7 130.5 L386.9 131.1 L388.0 131.8 L389.2 132.5 L390.4 133.3 L391.6 134.1 L392.7 134.9 L393.9 135.8 L395.1 136.7 L396.3 137.6 L397.4 138.5 L398.6 139.5 L399.8 140.4 L400.9 141.4 L402.1 142.3 L403.3 143.2 L404.5 144.2 L405.6 145.1 L406.8 146.0 L408.0 146.9 L409.2 147.8 L410.3 148.6 L411.5 149.4 L412.7 150.2 L413.8 151.0 L415.0 151.8 L416.2 152.5 L417.4 153.2 L418.5 153.9 L419.7 154.6 L420.9 155.2 L422.1 155.9 L423.2 156.5 L424.4 157.1 L425.6 157.6 L426.7 158.2 L427.9 158.7 L429.1 159.2 L430.3 159.7 L431.4 160.1 L432.6 160.6 L433.8 161.0 L435.0 161.4 L436.1 161.8 L437.3 162.1 L438.5 162.4 L439.6 162.8 L440.8 163.0 L442.0 163.3 L443.2 163.5 L444.3 163.8 L445.5 164.0 L446.7 164.1 L447.9 164.3 L449.0 164.4 L450.2 164.4 L451.4 164.5 L452.5 164.5 L453.7 164.5 L454.9 164.5 L456.1 164.4 L457.2 164.4 L458.4 164.3 L459.6 164.3 L460.8 164.2 L461.9 164.1 L463.1 164.0 L464.3 163.8 L465.5 163.7 L466.6 163.6 L467.8 163.4 L469.0 163.3 L470.1 163.1 L471.3 163.0 L472.5 162.8 L473.7 162.6 L474.8 162.5 L476.0 162.3 L477.2 162.1 L478.4 162.0 L479.5 161.8 L480.7 161.7 L481.9 161.5 L483.0 161.4 L484.2 161.3 L485.4 161.1 L486.6 161.0 L487.7 160.9 L488.9 160.8 L490.1 160.7 L491.3 160.7 L492.4 160.6 L493.6 160.6 L494.8 160.6 L495.9 160.5 L497.1 160.5 L498.3 160.6 L499.5 160.6 L500.6 160.7 L501.8 160.8 L503.0 160.9 L504.2 161.1 L505.3 161.3 L506.5 161.5 L507.7 161.7 L508.8 161.9 L510.0 162.2 L511.2 162.5 L512.4 162.8 L513.5 163.1 L514.7 163.5 L515.9 163.8 L517.1 164.2 L518.2 164.6 L519.4 165.0 L520.6 165.4 L521.7 165.9 L522.9 166.3 L524.1 166.8 L525.3 167.2 L526.4 167.7 L527.6 168.2 L528.8 168.7 L530.0 169.1 L531.1 169.6 L532.3 170.1 L533.5 170.6 L534.6 171.1 L535.8 171.5 L537.0 172.0 L538.2 172.5 L539.3 172.9 L540.5 173.3 L541.7 173.8 L542.9 174.2 L544.0 174.6 L545.2 175.0 L546.4 175.4 L547.6 175.7 L548.7 176.1 L549.9 176.4 L551.1 176.7 L552.2 177.0 L553.4 177.2 L554.6 177.5 L555.8 177.7 L556.9 177.9 L558.1 178.0 L559.3 178.2 L560.5 178.3 L561.6 178.4 L562.8 178.5 L564.0 178.5 L565.1 178.5 L566.3 178.5 L567.5 178.5 L568.7 178.4 L569.8 178.4 L571.0 178.3 L572.2 178.1 L573.4 178.0 L574.5 177.8 L575.7 177.6 L576.9 177.3 L578.0 177.1 L579.2 176.8 L580.4 176.4 L581.6 176.1 L582.7 175.6 L583.9 175.1 L585.1 174.6 L586.3 174.0 L587.4 173.3 L588.6 172.6 L589.8 171.8 L590.9 171.0 L592.1 170.2 L593.3 169.3 L594.5 168.3 L595.6 167.4 L596.8 166.4 L598.0 165.4 L599.2 164.4 L600.3 163.5 L601.5 162.5 L602.7 161.6 L603.8 160.6 L605.0 159.8 L606.2 158.9 L607.4 158.1 L608.5 157.4 L609.7 156.7 L610.9 156.1 L612.1 155.4 L613.2 154.8 L614.4 154.2 L615.6 153.7 L616.8 153.2 L617.9 152.6 L619.1 152.1 L620.3 151.7 L621.4 151.2 L622.6 150.8 L623.8 150.4 L625.0 150.0 L626.1 149.6 L627.3 149.2 L628.5 148.8 L629.7 148.5 L630.8 148.1 L632.0 147.8 L633.2 147.5" stroke="#000000"/>
</g>
<rect x="138.45" y="230.65" width="435.50" height="162.15" fill="#fff"/>
<path d="M165.6 392.8 v-4.3 M165.6 230.7 v4.3 M211.1 392.8 v-4.3 M211.1 230.7 v4.3 M256.6 392.8 v-4.3 M256.6 230.7 v4.3 M302.1 392.8 v-4.3 M302.1 230.7 v4.3 M347.6 392.8 v-4.3 M347.6 230.7 v4.3 M393.1 392.8 v-4.3 M393.1 230.7 v4.3 M438.6 392.8 v-4.3 M438.6 230.7 v4.3 M484.1 392.8 v-4.3 M484.1 230.7 v4.3 M529.5 392.8 v-4.3 M529.5 230.7 v4.3 M138.4 262.9 h4.3 M574.0 262.9 h-4.3 M138.4 295.4 h4.3 M574.0 295.4 h-4.3 M138.4 328.0 h4.3 M574.0 328.0 h-4.3 M138.4 360.6 h4.3 M574.0 360.6 h-4.3" stroke="#000" stroke-width="1.2" fill="none"/>
<rect x="138.45" y="230.65" width="435.50" height="162.15" fill="none" stroke="#000" stroke-width="1.4"/>
<clipPath id="c2"><rect x="138.4" y="230.7" width="437.7" height="164.7"/></clipPath>
<g clip-path="url(#c2)" fill="none" stroke-linejoin="round" stroke-linecap="round" stroke-width="3.9">
<path d="M141.5 348.6 L142.0 349.6 L142.4 350.8 L142.9 351.9 L143.3 353.1 L143.8 354.2 L144.2 355.3 L144.7 356.3 L145.1 357.3 L145.6 358.1 L146.1 358.9 L146.5 359.6 L147.0 360.3 L147.4 361.0 L147.9 361.6 L148.3 362.2 L148.8 362.8 L149.2 363.3 L149.7 363.9 L150.2 364.4 L150.6 364.9 L151.1 365.3 L151.5 365.8 L152.0 366.2 L152.4 366.5 L152.9 366.9 L153.3 367.2 L153.8 367.5 L154.2 367.7 L154.7 367.9 L155.2 368.1 L155.6 368.3 L156.1 368.5 L156.5 368.6 L157.0 368.7 L157.4 368.8 L157.9 368.8 L158.3 368.9 L158.8 368.9 L159.3 368.9 L159.7 368.9 L160.2 368.9 L160.6 368.8 L161.1 368.7 L161.5 368.6 L162.0 368.5 L162.4 368.3 L162.9 368.1 L163.3 367.9 L163.8 367.7 L164.3 367.4 L164.7 367.2 L165.2 366.8 L165.6 366.5 L166.8 365.5 L167.9 364.4 L169.0 363.1 L170.2 361.7 L171.3 360.1 L172.4 358.3 L173.6 356.5 L174.7 354.5 L175.9 352.4 L177.0 350.3 L178.1 348.0 L179.3 345.8 L180.4 343.4 L181.5 341.1 L182.7 338.8 L183.8 336.4 L185.0 334.1 L186.1 331.9 L187.2 329.7 L188.4 327.6 L189.5 325.5 L190.6 323.5 L191.8 321.6 L192.9 319.7 L194.1 317.9 L195.2 316.2 L196.3 314.5 L197.5 312.9 L198.6 311.4 L199.7 309.9 L200.9 308.5 L202.0 307.1 L203.1 305.9 L204.3 304.6 L205.4 303.5 L206.6 302.4 L207.7 301.4 L208.8 300.4 L210.0 299.5 L211.1 298.7 L212.2 297.9 L213.4 297.2 L214.5 296.5 L215.7 296.0 L216.8 295.5 L217.9 295.0 L219.1 294.7 L220.2 294.4 L221.3 294.3 L222.5 294.2 L223.6 294.2 L224.8 294.3 L225.9 294.6 L227.0 294.9 L228.2 295.3 L229.3 295.8 L230.4 296.5 L231.6 297.2 L232.7 298.0 L233.9 298.9 L235.0 299.9 L236.1 301.0 L237.3 302.2 L238.4 303.5 L239.5 304.8 L240.7 306.2 L241.8 307.7 L243.0 309.3 L244.1 310.9 L245.2 312.6 L246.4 314.4 L247.5 316.2 L248.6 318.1 L249.8 320.0 L250.9 322.0 L252.1 324.0 L253.2 326.0 L254.3 328.0 L255.5 330.1 L256.6 332.2 L257.7 334.3 L258.9 336.5 L260.0 338.6 L261.1 340.7 L262.3 342.8 L263.4 344.9 L264.6 347.0 L265.7 349.1 L266.8 351.1 L268.0 353.1 L269.1 355.1 L270.2 357.0 L271.4 358.9 L272.5 360.7 L273.7 362.5 L274.8 364.2 L275.9 365.9 L277.1 367.4 L278.2 368.9 L279.3 370.4 L280.5 371.7 L281.6 373.0 L282.8 374.2 L283.9 375.3 L285.0 376.3 L286.2 377.2 L287.3 378.0 L288.4 378.7 L289.6 379.4 L290.7 379.9 L291.9 380.3 L293.0 380.6 L294.1 380.8 L295.3 381.0 L296.4 381.0 L297.5 380.8 L298.7 380.5 L299.8 380.1 L301.0 379.5 L302.1 378.8 L303.2 378.0 L304.4 377.0 L305.5 375.9 L306.6 374.7 L307.8 373.3 L308.9 371.9 L310.1 370.3 L311.2 368.6 L312.3 366.7 L313.5 364.8 L314.6 362.8 L315.7 360.6 L316.9 358.4 L318.0 356.0 L319.1 353.6 L320.3 351.0 L321.4 348.4 L322.6 345.7 L323.7 342.9 L324.8 340.0 L326.0 337.0 L327.1 334.0 L328.2 330.9 L329.4 327.7 L330.5 324.5 L331.7 321.2 L332.8 317.9 L333.9 314.5 L335.1 311.2 L336.2 307.8 L337.3 304.4 L338.5 301.0 L339.6 297.6 L340.8 294.3 L341.9 290.9 L343.0 287.6 L344.2 284.4 L345.3 281.2 L346.4 278.1 L347.6 275.0 L348.7 272.1 L349.9 269.2 L351.0 266.4 L352.1 263.7 L353.3 261.2 L354.4 258.7 L355.5 256.4 L356.7 254.2 L357.8 252.2 L359.0 250.3 L360.1 248.6 L361.2 247.0 L362.4 245.6 L363.5 244.3 L364.6 243.2 L365.8 242.2 L366.9 241.5 L368.1 240.8 L369.2 240.4 L370.3 240.1 L371.5 240.0 L372.6 240.1 L373.7 240.3 L374.9 240.6 L376.0 241.2 L377.1 241.9 L378.3 242.8 L379.4 243.9 L380.6 245.2 L381.7 246.6 L382.8 248.2 L384.0 249.9 L385.1 251.9 L386.2 254.0 L387.4 256.2 L388.5 258.6 L389.7 261.1 L390.8 263.7 L391.9 266.4 L393.1 269.2 L394.2 272.1 L395.3 275.1 L396.5 278.1 L397.6 281.2 L398.8 284.3 L399.9 287.5 L401.0 290.6 L402.2 293.7 L403.3 296.8 L404.4 299.9 L405.6 303.0 L406.7 305.9 L407.9 308.9 L409.0 311.7 L410.1 314.5 L411.3 317.3 L412.4 319.9 L413.5 322.5 L414.7 325.0 L415.8 327.5 L417.0 329.8 L418.1 332.1 L419.2 334.3 L420.4 336.5 L421.5 338.5 L422.6 340.5 L423.8 342.4 L424.9 344.2 L426.1 346.0 L427.2 347.6 L428.3 349.2 L429.5 350.7 L430.6 352.1 L431.7 353.5 L432.9 354.7 L434.0 355.8 L435.1 356.9 L436.3 357.9 L437.4 358.7 L438.6 359.5 L439.7 360.2 L440.8 360.8 L442.0 361.2 L443.1 361.6 L444.2 361.8 L445.4 362.0 L446.5 362.0 L447.7 361.9 L448.8 361.8 L449.9 361.6 L451.1 361.4 L452.2 361.1 L453.3 360.8 L454.5 360.4 L455.6 359.9 L456.8 359.4 L457.9 358.8 L459.0 358.3 L460.2 357.6 L461.3 357.0 L462.4 356.3 L463.6 355.5 L464.7 354.8 L465.9 354.0 L467.0 353.2 L468.1 352.5 L469.3 351.7 L470.4 350.9 L471.5 350.1 L472.7 349.3 L473.8 348.5 L475.0 347.8 L476.1 347.1 L477.2 346.4 L478.4 345.7 L479.5 345.1 L480.6 344.5 L481.8 343.9 L482.9 343.4 L484.1 343.0 L485.2 342.6 L486.3 342.2 L487.5 341.9 L488.6 341.7 L489.7 341.5 L490.9 341.4 L492.0 341.3 L493.1 341.3 L494.3 341.4 L495.4 341.6 L496.6 341.8 L497.7 342.1 L498.8 342.4 L500.0 342.9 L501.1 343.4 L502.2 344.0 L503.4 344.6 L504.5 345.3 L505.7 346.0 L506.8 346.9 L507.9 347.7 L509.1 348.7 L510.2 349.7 L511.3 350.7 L512.5 351.8 L513.6 352.9 L514.8 354.0 L515.9 355.2 L517.0 356.5 L518.2 357.7 L519.3 359.0 L520.4 360.3 L521.6 361.7 L522.7 363.0 L523.9 364.3 L525.0 365.7 L526.1 367.1 L527.3 368.4 L528.4 369.8 L529.5 371.1 L530.7 372.5 L531.8 373.8 L533.0 375.1 L534.1 376.4 L535.2 377.6 L536.4 378.9 L537.5 380.0 L538.6 381.2 L539.8 382.3 L540.9 383.4 L542.0 384.4 L543.2 385.3 L544.3 386.3 L545.5 387.1 L546.6 387.9 L547.7 388.7 L548.9 389.3 L550.0 389.9 L551.1 390.5 L552.3 391.0 L553.4 391.4 L554.6 391.7 L555.7 392.0 L556.8 392.2 L558.0 392.3 L559.1 392.4 L560.2 392.4 L561.4 392.2 L562.5 392.1 L563.7 391.8 L564.8 391.4 L565.9 391.0 L567.1 390.5 L568.2 389.9 L569.3 389.2 L570.5 388.4 L571.6 387.6 L572.8 386.6 L573.9 385.5 L575.0 384.3" stroke="#ff0000"/>
<path d="M141.5 346.2 L142.0 347.3 L142.4 348.4 L142.9 349.4 L143.3 350.4 L143.8 351.3 L144.2 352.1 L144.7 352.8 L145.1 353.5 L145.6 354.2 L146.1 354.8 L146.5 355.4 L147.0 356.0 L147.4 356.6 L147.9 357.2 L148.3 357.8 L148.8 358.3 L149.2 358.8 L149.7 359.3 L150.2 359.8 L150.6 360.3 L151.1 360.7 L151.5 361.2 L152.0 361.6 L152.4 361.9 L152.9 362.3 L153.3 362.6 L153.8 362.9 L154.2 363.2 L154.7 363.5 L155.2 363.7 L155.6 363.9 L156.1 364.1 L156.5 364.3 L157.0 364.4 L157.4 364.5 L157.9 364.6 L158.3 364.7 L158.8 364.7 L159.3 364.7 L159.7 364.7 L160.2 364.7 L160.6 364.6 L161.1 364.5 L161.5 364.5 L162.0 364.3 L162.4 364.2 L162.9 364.0 L163.3 363.8 L163.8 363.6 L164.3 363.4 L164.7 363.1 L165.2 362.9 L165.6 362.6 L166.8 361.7 L167.9 360.7 L169.0 359.5 L170.2 358.2 L171.3 356.8 L172.4 355.2 L173.6 353.5 L174.7 351.7 L175.9 349.9 L177.0 347.9 L178.1 345.9 L179.3 343.9 L180.4 341.8 L181.5 339.7 L182.7 337.6 L183.8 335.5 L185.0 333.4 L186.1 331.4 L187.2 329.4 L188.4 327.5 L189.5 325.6 L190.6 323.8 L191.8 322.1 L192.9 320.4 L194.1 318.8 L195.2 317.2 L196.3 315.7 L197.5 314.3 L198.6 312.9 L199.7 311.6 L200.9 310.4 L202.0 309.1 L203.1 308.0 L204.3 306.9 L205.4 305.9 L206.6 304.9 L207.7 304.0 L208.8 303.1 L210.0 302.3 L211.1 301.5 L212.2 300.8 L213.4 300.2 L214.5 299.6 L215.7 299.1 L216.8 298.7 L217.9 298.3 L219.1 298.0 L220.2 297.8 L221.3 297.6 L222.5 297.5 L223.6 297.6 L224.8 297.7 L225.9 297.9 L227.0 298.2 L228.2 298.5 L229.3 299.0 L230.4 299.6 L231.6 300.2 L232.7 300.9 L233.9 301.8 L235.0 302.6 L236.1 303.6 L237.3 304.7 L238.4 305.8 L239.5 307.0 L240.7 308.3 L241.8 309.6 L243.0 311.0 L244.1 312.5 L245.2 314.0 L246.4 315.5 L247.5 317.2 L248.6 318.8 L249.8 320.5 L250.9 322.3 L252.1 324.1 L253.2 325.9 L254.3 327.7 L255.5 329.6 L256.6 331.5 L257.7 333.4 L258.9 335.3 L260.0 337.2 L261.1 339.1 L262.3 341.0 L263.4 342.9 L264.6 344.8 L265.7 346.7 L266.8 348.5 L268.0 350.4 L269.1 352.1 L270.2 353.9 L271.4 355.6 L272.5 357.2 L273.7 358.8 L274.8 360.4 L275.9 361.9 L277.1 363.3 L278.2 364.7 L279.3 366.0 L280.5 367.2 L281.6 368.4 L282.8 369.5 L283.9 370.5 L285.0 371.4 L286.2 372.2 L287.3 372.9 L288.4 373.6 L289.6 374.2 L290.7 374.6 L291.9 375.0 L293.0 375.3 L294.1 375.5 L295.3 375.6 L296.4 375.6 L297.5 375.5 L298.7 375.2 L299.8 374.8 L301.0 374.3 L302.1 373.7 L303.2 372.9 L304.4 372.1 L305.5 371.1 L306.6 370.0 L307.8 368.8 L308.9 367.4 L310.1 366.0 L311.2 364.5 L312.3 362.8 L313.5 361.1 L314.6 359.3 L315.7 357.3 L316.9 355.3 L318.0 353.2 L319.1 351.0 L320.3 348.7 L321.4 346.4 L322.6 343.9 L323.7 341.4 L324.8 338.8 L326.0 336.1 L327.1 333.4 L328.2 330.6 L329.4 327.7 L330.5 324.8 L331.7 321.8 L332.8 318.8 L333.9 315.8 L335.1 312.7 L336.2 309.6 L337.3 306.6 L338.5 303.5 L339.6 300.4 L340.8 297.3 L341.9 294.3 L343.0 291.3 L344.2 288.3 L345.3 285.4 L346.4 282.5 L347.6 279.7 L348.7 277.0 L349.9 274.4 L351.0 271.9 L352.1 269.4 L353.3 267.1 L354.4 264.8 L355.5 262.7 L356.7 260.7 L357.8 258.9 L359.0 257.1 L360.1 255.5 L361.2 254.1 L362.4 252.8 L363.5 251.6 L364.6 250.6 L365.8 249.7 L366.9 249.0 L368.1 248.5 L369.2 248.1 L370.3 247.8 L371.5 247.7 L372.6 247.7 L373.7 247.9 L374.9 248.3 L376.0 248.7 L377.1 249.4 L378.3 250.2 L379.4 251.1 L380.6 252.3 L381.7 253.5 L382.8 255.0 L384.0 256.5 L385.1 258.3 L386.2 260.1 L387.4 262.1 L388.5 264.2 L389.7 266.5 L390.8 268.8 L391.9 271.2 L393.1 273.7 L394.2 276.3 L395.3 279.0 L396.5 281.7 L397.6 284.4 L398.8 287.2 L399.9 290.0 L401.0 292.8 L402.2 295.6 L403.3 298.3 L404.4 301.0 L405.6 303.7 L406.7 306.4 L407.9 308.9 L409.0 311.4 L410.1 313.9 L411.3 316.3 L412.4 318.6 L413.5 320.9 L414.7 323.1 L415.8 325.2 L417.0 327.3 L418.1 329.3 L419.2 331.3 L420.4 333.1 L421.5 335.0 L422.6 336.7 L423.8 338.4 L424.9 340.0 L426.1 341.5 L427.2 343.0 L428.3 344.4 L429.5 345.7 L430.6 347.0 L431.7 348.2 L432.9 349.3 L434.0 350.4 L435.1 351.3 L436.3 352.2 L437.4 353.1 L438.6 353.8 L439.7 354.5 L440.8 355.1 L442.0 355.6 L443.1 356.0 L444.2 356.3 L445.4 356.5 L446.5 356.6 L447.7 356.7 L448.8 356.6 L449.9 356.5 L451.1 356.4 L452.2 356.2 L453.3 356.0 L454.5 355.7 L455.6 355.3 L456.8 354.9 L457.9 354.5 L459.0 354.1 L460.2 353.6 L461.3 353.0 L462.4 352.5 L463.6 351.9 L464.7 351.3 L465.9 350.7 L467.0 350.0 L468.1 349.4 L469.3 348.7 L470.4 348.0 L471.5 347.4 L472.7 346.7 L473.8 346.1 L475.0 345.5 L476.1 344.9 L477.2 344.3 L478.4 343.7 L479.5 343.2 L480.6 342.7 L481.8 342.2 L482.9 341.8 L484.1 341.4 L485.2 341.0 L486.3 340.7 L487.5 340.5 L488.6 340.3 L489.7 340.1 L490.9 340.0 L492.0 340.0 L493.1 340.0 L494.3 340.1 L495.4 340.2 L496.6 340.4 L497.7 340.7 L498.8 341.0 L500.0 341.4 L501.1 341.9 L502.2 342.4 L503.4 343.0 L504.5 343.6 L505.7 344.3 L506.8 345.1 L507.9 345.9 L509.1 346.8 L510.2 347.7 L511.3 348.6 L512.5 349.6 L513.6 350.7 L514.8 351.8 L515.9 352.9 L517.0 354.0 L518.2 355.2 L519.3 356.4 L520.4 357.6 L521.6 358.8 L522.7 360.0 L523.9 361.3 L525.0 362.6 L526.1 363.8 L527.3 365.1 L528.4 366.3 L529.5 367.6 L530.7 368.8 L531.8 370.0 L533.0 371.3 L534.1 372.4 L535.2 373.6 L536.4 374.7 L537.5 375.8 L538.6 376.9 L539.8 377.9 L540.9 378.9 L542.0 379.8 L543.2 380.7 L544.3 381.6 L545.5 382.4 L546.6 383.1 L547.7 383.8 L548.9 384.4 L550.0 385.0 L551.1 385.5 L552.3 385.9 L553.4 386.3 L554.6 386.6 L555.7 386.9 L556.8 387.1 L558.0 387.2 L559.1 387.2 L560.2 387.2 L561.4 387.1 L562.5 387.0 L563.7 386.7 L564.8 386.4 L565.9 386.0 L567.1 385.6 L568.2 385.0 L569.3 384.4 L570.5 383.7 L571.6 383.0 L572.8 382.1 L573.9 381.1 L575.0 380.0" stroke="#00ff00"/>
<path d="M141.5 343.7 L142.0 344.6 L142.4 345.5 L142.9 346.3 L143.3 347.0 L143.8 347.6 L144.2 348.3 L144.7 348.9 L145.1 349.4 L145.6 350.0 L146.1 350.5 L146.5 351.1 L147.0 351.6 L147.4 352.2 L147.9 352.7 L148.3 353.2 L148.8 353.8 L149.2 354.3 L149.7 354.8 L150.2 355.2 L150.6 355.7 L151.1 356.2 L151.5 356.6 L152.0 357.0 L152.4 357.4 L152.9 357.8 L153.3 358.1 L153.8 358.5 L154.2 358.8 L154.7 359.1 L155.2 359.3 L155.6 359.6 L156.1 359.8 L156.5 360.0 L157.0 360.1 L157.4 360.3 L157.9 360.4 L158.3 360.5 L158.8 360.5 L159.3 360.5 L159.7 360.5 L160.2 360.5 L160.6 360.4 L161.1 360.4 L161.5 360.3 L162.0 360.2 L162.4 360.1 L162.9 359.9 L163.3 359.7 L163.8 359.6 L164.3 359.3 L164.7 359.1 L165.2 358.9 L165.6 358.6 L166.8 357.8 L167.9 356.9 L169.0 355.9 L170.2 354.7 L171.3 353.4 L172.4 352.0 L173.6 350.6 L174.7 349.0 L175.9 347.3 L177.0 345.6 L178.1 343.8 L179.3 342.0 L180.4 340.1 L181.5 338.2 L182.7 336.3 L183.8 334.5 L185.0 332.6 L186.1 330.8 L187.2 329.1 L188.4 327.4 L189.5 325.7 L190.6 324.2 L191.8 322.6 L192.9 321.1 L194.1 319.7 L195.2 318.3 L196.3 317.0 L197.5 315.7 L198.6 314.5 L199.7 313.3 L200.9 312.2 L202.0 311.2 L203.1 310.1 L204.3 309.2 L205.4 308.3 L206.6 307.4 L207.7 306.6 L208.8 305.8 L210.0 305.1 L211.1 304.4 L212.2 303.8 L213.4 303.3 L214.5 302.7 L215.7 302.3 L216.8 301.9 L217.9 301.6 L219.1 301.3 L220.2 301.1 L221.3 300.9 L222.5 300.9 L223.6 300.9 L224.8 301.0 L225.9 301.2 L227.0 301.4 L228.2 301.8 L229.3 302.2 L230.4 302.7 L231.6 303.2 L232.7 303.9 L233.9 304.6 L235.0 305.4 L236.1 306.2 L237.3 307.1 L238.4 308.1 L239.5 309.2 L240.7 310.3 L241.8 311.5 L243.0 312.7 L244.1 314.0 L245.2 315.3 L246.4 316.7 L247.5 318.1 L248.6 319.6 L249.8 321.1 L250.9 322.6 L252.1 324.2 L253.2 325.8 L254.3 327.4 L255.5 329.1 L256.6 330.8 L257.7 332.5 L258.9 334.2 L260.0 335.9 L261.1 337.6 L262.3 339.3 L263.4 341.0 L264.6 342.7 L265.7 344.3 L266.8 346.0 L268.0 347.6 L269.1 349.2 L270.2 350.7 L271.4 352.3 L272.5 353.8 L273.7 355.2 L274.8 356.6 L275.9 357.9 L277.1 359.2 L278.2 360.5 L279.3 361.6 L280.5 362.7 L281.6 363.8 L282.8 364.7 L283.9 365.6 L285.0 366.4 L286.2 367.2 L287.3 367.8 L288.4 368.4 L289.6 368.9 L290.7 369.4 L291.9 369.7 L293.0 370.0 L294.1 370.1 L295.3 370.2 L296.4 370.2 L297.5 370.1 L298.7 369.9 L299.8 369.5 L301.0 369.1 L302.1 368.5 L303.2 367.9 L304.4 367.1 L305.5 366.2 L306.6 365.2 L307.8 364.2 L308.9 363.0 L310.1 361.7 L311.2 360.4 L312.3 358.9 L313.5 357.4 L314.6 355.8 L315.7 354.1 L316.9 352.3 L318.0 350.4 L319.1 348.5 L320.3 346.4 L321.4 344.3 L322.6 342.1 L323.7 339.9 L324.8 337.6 L326.0 335.2 L327.1 332.8 L328.2 330.3 L329.4 327.7 L330.5 325.1 L331.7 322.4 L332.8 319.7 L333.9 317.0 L335.1 314.3 L336.2 311.5 L337.3 308.7 L338.5 305.9 L339.6 303.1 L340.8 300.4 L341.9 297.6 L343.0 294.9 L344.2 292.2 L345.3 289.6 L346.4 287.0 L347.6 284.5 L348.7 282.0 L349.9 279.6 L351.0 277.3 L352.1 275.1 L353.3 273.0 L354.4 270.9 L355.5 269.0 L356.7 267.2 L357.8 265.5 L359.0 263.9 L360.1 262.5 L361.2 261.2 L362.4 260.0 L363.5 258.9 L364.6 258.0 L365.8 257.2 L366.9 256.6 L368.1 256.1 L369.2 255.7 L370.3 255.5 L371.5 255.4 L372.6 255.4 L373.7 255.6 L374.9 255.9 L376.0 256.3 L377.1 256.9 L378.3 257.6 L379.4 258.4 L380.6 259.4 L381.7 260.5 L382.8 261.7 L384.0 263.1 L385.1 264.6 L386.2 266.3 L387.4 268.0 L388.5 269.9 L389.7 271.8 L390.8 273.9 L391.9 276.0 L393.1 278.2 L394.2 280.5 L395.3 282.8 L396.5 285.2 L397.6 287.6 L398.8 290.1 L399.9 292.5 L401.0 294.9 L402.2 297.4 L403.3 299.8 L404.4 302.1 L405.6 304.5 L406.7 306.8 L407.9 309.0 L409.0 311.2 L410.1 313.3 L411.3 315.4 L412.4 317.4 L413.5 319.4 L414.7 321.3 L415.8 323.1 L417.0 324.9 L418.1 326.7 L419.2 328.3 L420.4 330.0 L421.5 331.5 L422.6 333.1 L423.8 334.5 L424.9 335.9 L426.1 337.3 L427.2 338.5 L428.3 339.8 L429.5 341.0 L430.6 342.1 L431.7 343.1 L432.9 344.1 L434.0 345.1 L435.1 346.0 L436.3 346.8 L437.4 347.5 L438.6 348.2 L439.7 348.9 L440.8 349.4 L442.0 349.9 L443.1 350.4 L444.2 350.7 L445.4 351.0 L446.5 351.2 L447.7 351.3 L448.8 351.3 L449.9 351.3 L451.1 351.2 L452.2 351.1 L453.3 351.0 L454.5 350.8 L455.6 350.6 L456.8 350.3 L457.9 350.0 L459.0 349.7 L460.2 349.3 L461.3 348.9 L462.4 348.5 L463.6 348.0 L464.7 347.6 L465.9 347.1 L467.0 346.6 L468.1 346.1 L469.3 345.6 L470.4 345.1 L471.5 344.5 L472.7 344.0 L473.8 343.5 L475.0 343.0 L476.1 342.5 L477.2 342.1 L478.4 341.6 L479.5 341.2 L480.6 340.8 L481.8 340.4 L482.9 340.1 L484.1 339.8 L485.2 339.5 L486.3 339.2 L487.5 339.0 L488.6 338.9 L489.7 338.8 L490.9 338.7 L492.0 338.6 L493.1 338.6 L494.3 338.7 L495.4 338.8 L496.6 339.0 L497.7 339.3 L498.8 339.6 L500.0 340.0 L501.1 340.4 L502.2 340.9 L503.4 341.4 L504.5 342.0 L505.7 342.6 L506.8 343.3 L507.9 344.1 L509.1 344.9 L510.2 345.7 L511.3 346.6 L512.5 347.5 L513.6 348.5 L514.8 349.5 L515.9 350.5 L517.0 351.5 L518.2 352.6 L519.3 353.7 L520.4 354.8 L521.6 355.9 L522.7 357.1 L523.9 358.2 L525.0 359.4 L526.1 360.6 L527.3 361.7 L528.4 362.9 L529.5 364.0 L530.7 365.2 L531.8 366.3 L533.0 367.4 L534.1 368.5 L535.2 369.6 L536.4 370.6 L537.5 371.6 L538.6 372.6 L539.8 373.5 L540.9 374.4 L542.0 375.3 L543.2 376.1 L544.3 376.9 L545.5 377.6 L546.6 378.3 L547.7 378.9 L548.9 379.5 L550.0 380.0 L551.1 380.5 L552.3 380.9 L553.4 381.3 L554.6 381.6 L555.7 381.8 L556.8 382.0 L558.0 382.1 L559.1 382.1 L560.2 382.1 L561.4 382.0 L562.5 381.9 L563.7 381.7 L564.8 381.4 L565.9 381.1 L567.1 380.7 L568.2 380.2 L569.3 379.7 L570.5 379.1 L571.6 378.4 L572.8 377.6 L573.9 376.7 L575.0 375.8" stroke="#0000ff"/>
<path d="M141.5 340.6 L142.0 341.3 L142.4 341.9 L142.9 342.5 L143.3 343.0 L143.8 343.5 L144.2 344.1 L144.7 344.6 L145.1 345.1 L145.6 345.6 L146.1 346.1 L146.5 346.6 L147.0 347.2 L147.4 347.7 L147.9 348.2 L148.3 348.7 L148.8 349.2 L149.2 349.7 L149.7 350.2 L150.2 350.7 L150.6 351.1 L151.1 351.6 L151.5 352.0 L152.0 352.5 L152.4 352.9 L152.9 353.3 L153.3 353.7 L153.8 354.0 L154.2 354.4 L154.7 354.7 L155.2 355.0 L155.6 355.2 L156.1 355.5 L156.5 355.7 L157.0 355.9 L157.4 356.0 L157.9 356.2 L158.3 356.2 L158.8 356.3 L159.3 356.3 L159.7 356.3 L160.2 356.3 L160.6 356.3 L161.1 356.2 L161.5 356.1 L162.0 356.0 L162.4 355.9 L162.9 355.8 L163.3 355.6 L163.8 355.5 L164.3 355.3 L164.7 355.1 L165.2 354.9 L165.6 354.6 L166.8 354.0 L167.9 353.2 L169.0 352.3 L170.2 351.2 L171.3 350.1 L172.4 348.9 L173.6 347.6 L174.7 346.2 L175.9 344.7 L177.0 343.2 L178.1 341.6 L179.3 340.0 L180.4 338.4 L181.5 336.8 L182.7 335.1 L183.8 333.5 L185.0 331.9 L186.1 330.3 L187.2 328.8 L188.4 327.3 L189.5 325.9 L190.6 324.5 L191.8 323.1 L192.9 321.8 L194.1 320.6 L195.2 319.4 L196.3 318.2 L197.5 317.1 L198.6 316.1 L199.7 315.1 L200.9 314.1 L202.0 313.2 L203.1 312.3 L204.3 311.4 L205.4 310.6 L206.6 309.9 L207.7 309.2 L208.8 308.5 L210.0 307.9 L211.1 307.3 L212.2 306.8 L213.4 306.3 L214.5 305.8 L215.7 305.5 L216.8 305.1 L217.9 304.8 L219.1 304.6 L220.2 304.4 L221.3 304.3 L222.5 304.2 L223.6 304.2 L224.8 304.3 L225.9 304.5 L227.0 304.7 L228.2 305.0 L229.3 305.3 L230.4 305.8 L231.6 306.3 L232.7 306.8 L233.9 307.4 L235.0 308.1 L236.1 308.8 L237.3 309.6 L238.4 310.4 L239.5 311.3 L240.7 312.3 L241.8 313.3 L243.0 314.4 L244.1 315.5 L245.2 316.6 L246.4 317.8 L247.5 319.0 L248.6 320.3 L249.8 321.6 L250.9 322.9 L252.1 324.3 L253.2 325.7 L254.3 327.1 L255.5 328.6 L256.6 330.0 L257.7 331.5 L258.9 333.0 L260.0 334.5 L261.1 336.0 L262.3 337.5 L263.4 339.0 L264.6 340.5 L265.7 341.9 L266.8 343.4 L268.0 344.8 L269.1 346.2 L270.2 347.6 L271.4 349.0 L272.5 350.3 L273.7 351.6 L274.8 352.8 L275.9 354.0 L277.1 355.1 L278.2 356.2 L279.3 357.2 L280.5 358.2 L281.6 359.1 L282.8 360.0 L283.9 360.8 L285.0 361.5 L286.2 362.2 L287.3 362.8 L288.4 363.3 L289.6 363.7 L290.7 364.1 L291.9 364.4 L293.0 364.6 L294.1 364.8 L295.3 364.9 L296.4 364.9 L297.5 364.8 L298.7 364.6 L299.8 364.3 L301.0 363.9 L302.1 363.4 L303.2 362.8 L304.4 362.1 L305.5 361.4 L306.6 360.5 L307.8 359.6 L308.9 358.6 L310.1 357.5 L311.2 356.3 L312.3 355.0 L313.5 353.7 L314.6 352.3 L315.7 350.8 L316.9 349.2 L318.0 347.6 L319.1 345.9 L320.3 344.1 L321.4 342.3 L322.6 340.4 L323.7 338.4 L324.8 336.4 L326.0 334.3 L327.1 332.2 L328.2 330.0 L329.4 327.7 L330.5 325.4 L331.7 323.0 L332.8 320.7 L333.9 318.2 L335.1 315.8 L336.2 313.3 L337.3 310.9 L338.5 308.4 L339.6 305.9 L340.8 303.4 L341.9 301.0 L343.0 298.5 L344.2 296.1 L345.3 293.8 L346.4 291.5 L347.6 289.2 L348.7 287.0 L349.9 284.8 L351.0 282.8 L352.1 280.8 L353.3 278.9 L354.4 277.0 L355.5 275.3 L356.7 273.7 L357.8 272.2 L359.0 270.8 L360.1 269.5 L361.2 268.3 L362.4 267.2 L363.5 266.3 L364.6 265.4 L365.8 264.7 L366.9 264.2 L368.1 263.7 L369.2 263.4 L370.3 263.2 L371.5 263.1 L372.6 263.1 L373.7 263.3 L374.9 263.5 L376.0 263.9 L377.1 264.3 L378.3 264.9 L379.4 265.6 L380.6 266.5 L381.7 267.4 L382.8 268.5 L384.0 269.7 L385.1 271.0 L386.2 272.4 L387.4 273.9 L388.5 275.5 L389.7 277.2 L390.8 278.9 L391.9 280.8 L393.1 282.7 L394.2 284.7 L395.3 286.7 L396.5 288.7 L397.6 290.8 L398.8 292.9 L399.9 294.9 L401.0 297.0 L402.2 299.1 L403.3 301.2 L404.4 303.2 L405.6 305.2 L406.7 307.2 L407.9 309.1 L409.0 310.9 L410.1 312.7 L411.3 314.5 L412.4 316.2 L413.5 317.9 L414.7 319.5 L415.8 321.1 L417.0 322.6 L418.1 324.1 L419.2 325.6 L420.4 326.9 L421.5 328.3 L422.6 329.6 L423.8 330.8 L424.9 332.0 L426.1 333.2 L427.2 334.3 L428.3 335.4 L429.5 336.4 L430.6 337.3 L431.7 338.3 L432.9 339.1 L434.0 340.0 L435.1 340.8 L436.3 341.5 L437.4 342.2 L438.6 342.8 L439.7 343.4 L440.8 343.9 L442.0 344.4 L443.1 344.8 L444.2 345.2 L445.4 345.5 L446.5 345.7 L447.7 345.9 L448.8 346.0 L449.9 346.0 L451.1 346.0 L452.2 346.0 L453.3 345.9 L454.5 345.8 L455.6 345.6 L456.8 345.5 L457.9 345.3 L459.0 345.1 L460.2 344.8 L461.3 344.6 L462.4 344.3 L463.6 344.0 L464.7 343.7 L465.9 343.3 L467.0 343.0 L468.1 342.6 L469.3 342.3 L470.4 341.9 L471.5 341.6 L472.7 341.2 L473.8 340.8 L475.0 340.5 L476.1 340.1 L477.2 339.8 L478.4 339.5 L479.5 339.1 L480.6 338.9 L481.8 338.6 L482.9 338.3 L484.1 338.1 L485.2 337.9 L486.3 337.7 L487.5 337.6 L488.6 337.5 L489.7 337.4 L490.9 337.3 L492.0 337.3 L493.1 337.3 L494.3 337.4 L495.4 337.5 L496.6 337.6 L497.7 337.9 L498.8 338.2 L500.0 338.5 L501.1 338.9 L502.2 339.3 L503.4 339.8 L504.5 340.4 L505.7 341.0 L506.8 341.6 L507.9 342.3 L509.1 343.0 L510.2 343.8 L511.3 344.6 L512.5 345.4 L513.6 346.3 L514.8 347.2 L515.9 348.1 L517.0 349.1 L518.2 350.0 L519.3 351.0 L520.4 352.1 L521.6 353.1 L522.7 354.1 L523.9 355.2 L525.0 356.2 L526.1 357.3 L527.3 358.4 L528.4 359.4 L529.5 360.5 L530.7 361.5 L531.8 362.5 L533.0 363.6 L534.1 364.5 L535.2 365.5 L536.4 366.5 L537.5 367.4 L538.6 368.3 L539.8 369.1 L540.9 370.0 L542.0 370.8 L543.2 371.5 L544.3 372.2 L545.5 372.9 L546.6 373.5 L547.7 374.1 L548.9 374.6 L550.0 375.1 L551.1 375.5 L552.3 375.9 L553.4 376.2 L554.6 376.5 L555.7 376.7 L556.8 376.8 L558.0 376.9 L559.1 377.0 L560.2 377.0 L561.4 376.9 L562.5 376.8 L563.7 376.6 L564.8 376.4 L565.9 376.1 L567.1 375.7 L568.2 375.3 L569.3 374.9 L570.5 374.4 L571.6 373.8 L572.8 373.1 L573.9 372.4 L575.0 371.5" stroke="#000000"/>
</g>
<rect x="445" y="25.5" width="133" height="106.7" fill="#fff"/>
<path d="M449.8 42.0 H502.6" stroke="#ff0000" stroke-width="4" fill="none"/>
<path d="M449.8 66.8 H502.6" stroke="#00ff00" stroke-width="4" fill="none"/>
<path d="M449.8 92.7 H502.6" stroke="#0000ff" stroke-width="4" fill="none"/>
<path d="M449.8 117.4 H502.6" stroke="#000000" stroke-width="4" fill="none"/>
<g id="tx">
<text x="65.0" y="479.6" font-size="21" text-anchor="middle">0</text>
<text x="158.9" y="479.6" font-size="21" text-anchor="middle">1</text>
<text x="252.6" y="479.6" font-size="21" text-anchor="middle">2</text>
<text x="346.9" y="479.6" font-size="21" text-anchor="middle">3</text>
<text x="441.0" y="479.6" font-size="21" text-anchor="middle">4</text>
<text x="534.7" y="479.6" font-size="21" text-anchor="middle">5</text>
<text x="628.7" y="479.6" font-size="21" text-anchor="middle">6</text>
<text x="56.8" y="15.6" font-size="21" text-anchor="end">5</text>
<text x="56.8" y="163.9" font-size="21" text-anchor="end">0</text>
<text x="56.8" y="312.1" font-size="21" text-anchor="end">−5</text>
<text x="56.8" y="460.2" font-size="21" text-anchor="end">−10</text>
<text x="347.2" y="507.4" font-size="22.5" text-anchor="middle">Time (s)</text>
<text transform="translate(17.8 226.9) rotate(-90)" font-size="23.15" text-anchor="middle">Rudder (deg)</text>
<text class="s" x="165.6" y="413.4" text-anchor="middle">1</text>
<text class="s" x="211.1" y="413.4" text-anchor="middle">1.5</text>
<text class="s" x="256.6" y="413.4" text-anchor="middle">2</text>
<text class="s" x="302.1" y="413.4" text-anchor="middle">2.5</text>
<text class="s" x="347.6" y="413.4" text-anchor="middle">3</text>
<text class="s" x="393.1" y="413.4" text-anchor="middle">3.5</text>
<text class="s" x="438.6" y="413.4" text-anchor="middle">4</text>
<text class="s" x="484.1" y="413.4" text-anchor="middle">4.5</text>
<text class="s" x="529.5" y="413.4" text-anchor="middle">5</text>
<text class="s" x="574.0" y="413.4" text-anchor="middle">5.5</text>
<text class="s" x="132.4" y="236.2" text-anchor="end">1.5</text>
<text class="s" x="132.4" y="268.5" text-anchor="end">1</text>
<text class="s" x="132.4" y="301.1" text-anchor="end">0.5</text>
<text class="s" x="132.4" y="333.6" text-anchor="end">0</text>
<text class="s" x="132.4" y="366.2" text-anchor="end">−0.5</text>
<text class="s" x="132.4" y="398.4" text-anchor="end">−1</text>
<text x="505.6" y="49.3" font-size="20" word-spacing="0.35">d = 0</text>
<text x="505.6" y="74.1" font-size="20" word-spacing="0.35">d = 0.2</text>
<text x="505.6" y="100.0" font-size="20" word-spacing="0.35">d = 0.4</text>
<text x="505.6" y="124.7" font-size="20" word-spacing="0.35">d = 0.6</text>
</g>
</g>
</svg></body></html>
